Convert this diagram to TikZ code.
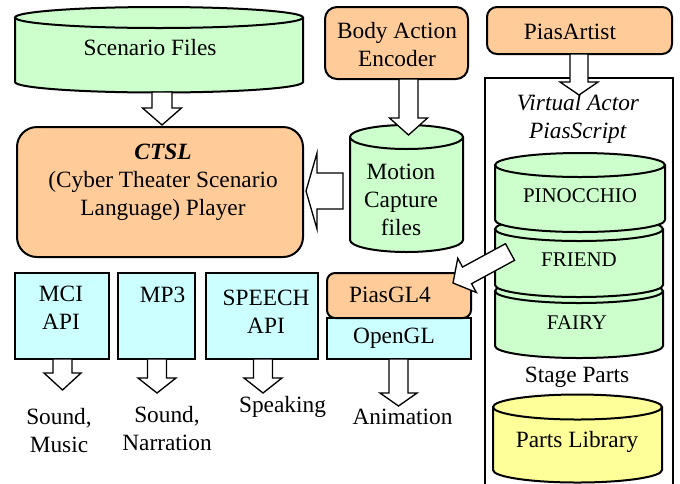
\documentclass[tikz,border=0pt]{standalone}
\usepackage{fontspec}
\setmainfont{Liberation Serif}
\usetikzlibrary{calc,fit}

\definecolor{boxorange}{HTML}{FFCC99}
\definecolor{filegreen}{HTML}{CCFFCC}
\definecolor{apicyan}{HTML}{CCFFFF}
\definecolor{libyellow}{HTML}{FFFF99}

% drum (cylinder) outline: left x, right x, top-ellipse centre y, bottom-ellipse centre y, y radius, fill
\newcommand{\drum}[6]{%
  \pgfmathsetmacro\dcx{(#1+#2)/2}%
  \pgfmathsetmacro\drx{(#2-#1)/2}%
  \pgfmathsetmacro\dka{#4+0.5523*#5}%
  \pgfmathsetmacro\dkb{#4+#5}%
  \pgfmathsetmacro\dla{\dcx-0.5523*\drx}%
  \pgfmathsetmacro\dlb{\dcx+0.5523*\drx}%
  \filldraw[drumline, fill=#6] (#1,#3) -- (#1,#4)
     .. controls (#1,\dka) and (\dla,\dkb) .. (\dcx,\dkb)
     .. controls (\dlb,\dkb) and (#2,\dka) .. (#2,#4) -- (#2,#3);
  \filldraw[drumline, fill=#6] (\dcx,#3) ellipse [x radius=\drx, y radius=#5];
}

% hollow block arrow: tail, tip, shaft half width, head half width, head length
\newcommand{\blockarrow}[5]{%
  \coordinate (ba-h) at ($(#2)!#5!(#1)$);
  \filldraw[arrowshape]
    ($(#1)!#3!90:(#2)$) -- ($(ba-h)!#3!90:(#2)$) -- ($(ba-h)!#4!90:(#2)$) -- (#2)
    -- ($(ba-h)!#4!-90:(#2)$) -- ($(ba-h)!#3!-90:(#2)$) -- ($(#1)!#3!-90:(#2)$) -- cycle;
}

\begin{document}
\begin{tikzpicture}[x=0.75pt, y=-0.75pt,
  drumline/.style={line width=1.5pt, draw=black},
  arrowshape/.style={line width=1pt, draw=black, fill=white, line join=miter},
  boxbase/.style={line width=1.5pt, draw=black, inner sep=0pt},
  orangebox/.style={boxbase, fill=boxorange},
  cyanbox/.style={boxbase, fill=apicyan},
  txt/.style={inner sep=0pt, align=center, font=\fontsize{17.5}{21}\selectfont},
  drumtxt/.style={inner sep=0pt, align=center, font=\fontsize{15.7}{19}\selectfont}]

\useasboundingbox (0,0) rectangle (680,483);
\clip (0,0) rectangle (680,483);

% ---- left column: scenario files and player ----
\drum{15}{303}{17.5}{82}{10.5}{filegreen}
\node[txt] (scenario) at (150,48) {Scenario Files};

\node[orangebox, rounded corners=15pt, fit={(17,127) (303,257)}] (ctsl) {};
\node[txt] (ctsltxt) at (163,182) {\textbf{\textit{CTSL}}\\(Cyber Theater Scenario\\Language) Player};

% ---- motion capture ----
\node[orangebox, rounded corners=9pt, fit={(325,7) (468,79)}] (encoder) {};
\node[txt] (encodertxt) at (397,45) {Body Action\\Encoder};

\drum{350}{463}{137}{240}{12}{filegreen}
\node[txt] (motion) at (401,200) {Motion\\Capture\\files};

% ---- PiasArtist frame ----
\node[orangebox, rounded corners=7.5pt, fit={(487,7) (672,54)}] (artist) {};
\node[txt] (artisttxt) at (570,32) {PiasArtist};

\draw[line width=1.5pt] (485,495) -- (485,78) -- (673,78) -- (673,495);
\node[txt] (vactor) at (578,119) {\textit{Virtual Actor}\\\textit{PiasScript}};

\drum{495}{663}{291}{346}{12}{filegreen}
\node[drumtxt] (fairy) at (577,323) {FAIRY};
\drum{495}{663}{229}{285}{12}{filegreen}
\node[drumtxt] (friend) at (579,260) {FRIEND};
\drum{495}{665}{165}{220}{12}{filegreen}
\node[drumtxt] (pinocchio) at (580,196) {PINOCCHIO};

\node[txt] (stage) at (577,377) {Stage Parts};
\drum{493}{662}{407}{470}{12.5}{libyellow}
\node[txt] (parts) at (577,442) {Parts Library};

% ---- output APIs ----
\node[cyanbox, fit={(15,273) (109,359)}] (mci) {};
\node[txt] (mcitxt) at (61,308) {MCI\\API};
\node[cyanbox, fit={(118,273) (195,359)}] (mp3) {};
\node[txt] (mp3txt) at (162.5,295) {MP3};
\node[cyanbox, fit={(206,273) (318,359)}] (speech) {};
\node[txt] (speechtxt) at (266,312) {SPEECH\\API};

\node[cyanbox, fit={(327,318) (471,359)}] (opengl) {};
\node[txt] (opengltxt) at (394,338) {OpenGL};
\node[orangebox, rounded corners=6pt, fit={(327,273) (471,318)}] (piasgl) {};
\node[txt] (piasgltxt) at (390,295) {PiasGL4};

\node[txt] (outmusic) at (59,431) {Sound,\\Music};
\node[txt] (outnarr) at (167,429) {Sound,\\Narration};
\node[txt] (outspeak) at (282.5,407) {Speaking};
\node[txt] (outanim) at (402.5,417) {Animation};

% ---- connector end points ----
\coordinate (scen-out) at (162,92);
\coordinate (ctsl-in) at (162,125);
\coordinate (enc-out) at (408.5,79);
\coordinate (mot-in) at (408.5,135);
\coordinate (art-out) at (579,54);
\coordinate (frame-in) at (579,95);
\coordinate (mot-out) at (343,191);
\coordinate (ctsl-side) at (306,191);
\coordinate (friend-out) at (510,252);
\coordinate (gl-in) at (453,283);
\coordinate (mci-out) at (62.5,359);
\coordinate (music-in) at (62.5,390);
\coordinate (mp3-out) at (157,359);
\coordinate (narr-in) at (157,393);
\coordinate (speech-out) at (263,359);
\coordinate (speak-in) at (263,393);
\coordinate (gl-out) at (398.5,359);
\coordinate (anim-in) at (398.5,406);

% ---- block arrows ----
\blockarrow{scen-out}{ctsl-in}{7.5pt}{14.6pt}{12.75pt}
\blockarrow{enc-out}{mot-in}{7.1pt}{14.25pt}{12.75pt}
\blockarrow{art-out}{frame-in}{6.75pt}{14.25pt}{9.75pt}
\blockarrow{mot-out}{ctsl-side}{13.5pt}{28.5pt}{8.25pt}
\blockarrow{friend-out}{gl-in}{7.1pt}{14.6pt}{12pt}
\blockarrow{mci-out}{music-in}{7.1pt}{13.9pt}{12.75pt}
\blockarrow{mp3-out}{narr-in}{7.1pt}{14.25pt}{11.25pt}
\blockarrow{speech-out}{speak-in}{7.1pt}{14.25pt}{11.25pt}
\blockarrow{gl-out}{anim-in}{7.1pt}{13.9pt}{9.75pt}

\end{tikzpicture}
\end{document}
